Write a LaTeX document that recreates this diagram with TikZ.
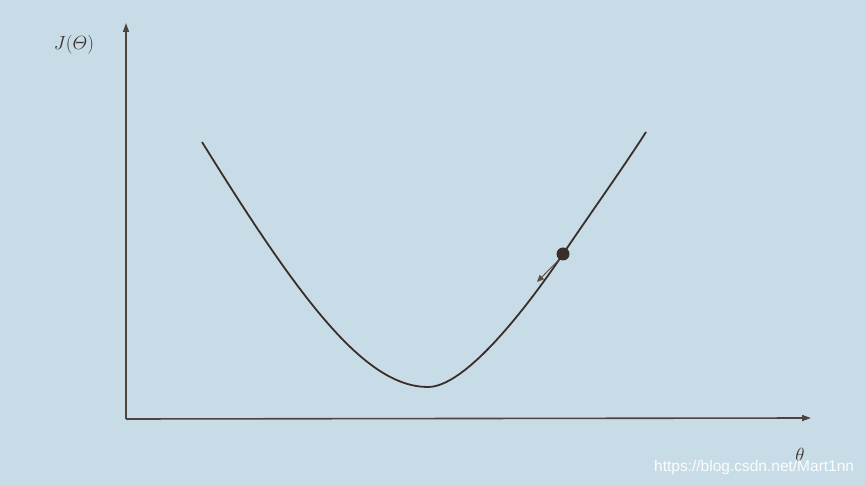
\RequirePackage{fix-cm}
\documentclass[tikz,border=0pt]{standalone}
\usepackage[no-math]{fontspec}
\newfontfamily\wmfont{Liberation Sans}
\usetikzlibrary{arrows.meta}
\definecolor{paper}{HTML}{C8DCE8}
\definecolor{ink}{HTML}{3A2E2A}
\definecolor{axisink}{HTML}{4E433E}
\tikzset{
  axisline/.style={draw=axisink, line width=1.6pt, -{Triangle[length=9pt,width=6pt]}},
  curveline/.style={draw=ink, line width=1.8pt},
  ballnode/.style={circle, fill=ink, minimum size=13pt, inner sep=0pt},
  forcearrow/.style={draw=ink!85, line width=0.9pt, -{Triangle[length=7pt,width=6pt]}},
  axlabel/.style={text=ink, font=\fontsize{19pt}{19pt}\selectfont, inner sep=0pt},
  watermark/.style={text=white!92!paper, font=\wmfont\fontsize{15.5pt}{15.5pt}\selectfont, inner sep=0pt, anchor=west}
}
\begin{document}
\begin{tikzpicture}[x=1pt,y=-1pt]
\fill[paper] (0,0) rectangle (865,486);
\useasboundingbox (0,0) rectangle (865,486);
\coordinate (O) at (126,419);
\coordinate (ytop) at (126,23);
\coordinate (xend) at (811,418);
\draw[axisline] (O) -- (ytop);
\draw[axisline] (O) -- (xend);
\node[axlabel] (jl) at (74,45) {$J(\mathnormal{\Theta})$};
\node[axlabel] (tl) at (800,455) {$\theta$};
\coordinate (c0) at (202,142);
\coordinate (cmin) at (428,387);
\coordinate (cb) at (563,254);
\coordinate (c1) at (646,132);
\draw[curveline] (c0) .. controls (300,300) and (365,387) .. (cmin)
  .. controls (470,387) and (540,288) .. (cb)
  .. controls (590,214) and (625,165) .. (c1);
\node[ballnode] (ball) at (cb) {};
\coordinate (tip) at (537,282);
\draw[forcearrow] (ball.235) -- (tip);
\node[watermark] (wm) at (654,467) {https://blog.csdn.net/Mart1nn};
\end{tikzpicture}
\end{document}
